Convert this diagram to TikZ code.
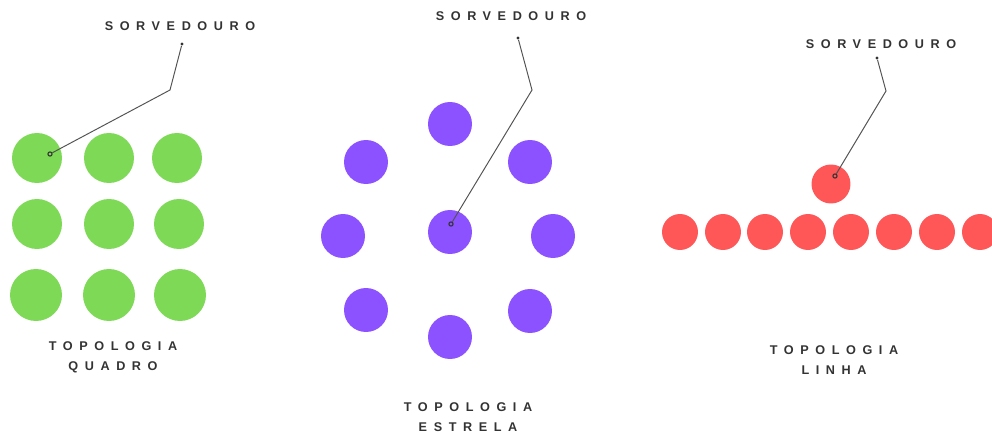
\documentclass[tikz,border=0pt]{standalone}
\usepackage{fontspec}
\newfontfamily\tagfont[LetterSpace=52]{Liberation Sans Bold}
\usetikzlibrary{positioning}
\definecolor{quad}{HTML}{7ED957}
\definecolor{estr}{HTML}{8C52FF}
\definecolor{linh}{HTML}{FF5757}
\definecolor{ink}{HTML}{333333}
\begin{document}
\begin{tikzpicture}[x=0.02cm,y=-0.02cm,
 gn/.style={circle,fill=quad,minimum size=1cm,inner sep=0pt},
 pn/.style={circle,fill=estr,minimum size=0.88cm,inner sep=0pt},
 rn/.style={circle,fill=linh,minimum size=0.72cm,inner sep=0pt},
 tg/.style={font=\tagfont\fontsize{7.2}{11.4}\selectfont,text=ink,align=center,inner sep=0pt},
 lring/.style={circle,draw=ink,line width=0.6pt,minimum size=2.4pt,inner sep=0pt},
 lpin/.style={circle,fill=ink,minimum size=1.8pt,inner sep=0pt},
 ld/.style={draw=ink!85,line width=0.55pt}]
\useasboundingbox (0,0) rectangle (992,433);
\clip (0,0) rectangle (992,433);
% quadro
\node[gn] (g11) at (37,158) {}; \node[gn] (g12) at (109,158) {}; \node[gn] (g13) at (177,158) {};
\node[gn] (g21) at (37,224) {}; \node[gn] (g22) at (109,224) {}; \node[gn] (g23) at (179,224) {};
\node[gn,minimum size=1.04cm] (g31) at (36,295) {}; \node[gn,minimum size=1.04cm] (g32) at (109,295) {}; \node[gn,minimum size=1.04cm] (g33) at (180,295) {};
\node[tg] (gs) at (180,26) {SORVEDOURO};
\node[tg] (gt) at (113,357) {TOPOLOGIA\\QUADRO};
% estrela
\node[pn] (pc) at (450,232) {};
\node[pn] (pn1) at (450,124) {}; \node[pn] (pne) at (530,162) {};
\node[pn] (pe) at (553,236) {}; \node[pn] (pse) at (530,311) {};
\node[pn] (ps) at (450,337) {}; \node[pn] (psw) at (366,310) {};
\node[pn] (pw) at (343,236) {}; \node[pn] (pnw) at (366,162) {};
\node[tg] (ps0) at (511,16) {SORVEDOURO};
\node[tg] (pt) at (468,417) {TOPOLOGIA\\ESTRELA};
% linha
\node[rn,minimum size=0.78cm] (rt) at (831,184) {};
\node[rn] (r1) at (680,232) {}; \node[rn] (r2) at (723,232) {};
\node[rn] (r3) at (765,232) {}; \node[rn] (r4) at (808,232) {};
\node[rn] (r5) at (851,232) {}; \node[rn] (r6) at (894,232) {};
\node[rn] (r7) at (937,232) {}; \node[rn] (r8) at (980,232) {};
\node[tg] (rs) at (881,44) {SORVEDOURO};
\node[tg] (rtl) at (834,360) {TOPOLOGIA\\LINHA};
% chamadas
\node[lring] (gh) at (50,154) {}; \node[lpin] (gp) at (182,44) {}; \coordinate (gb) at (170,90);
\node[lring] (ph) at (451,224) {}; \node[lpin] (pp) at (518,38) {}; \coordinate (pb) at (532,90);
\node[lring] (rh) at (835,176) {}; \node[lpin] (rp) at (877,58) {}; \coordinate (rb) at (886,91);
\draw[ld] (gp) -- (gb) -- (gh);
\draw[ld] (pp) -- (pb) -- (ph);
\draw[ld] (rp) -- (rb) -- (rh);
\end{tikzpicture}
\end{document}
